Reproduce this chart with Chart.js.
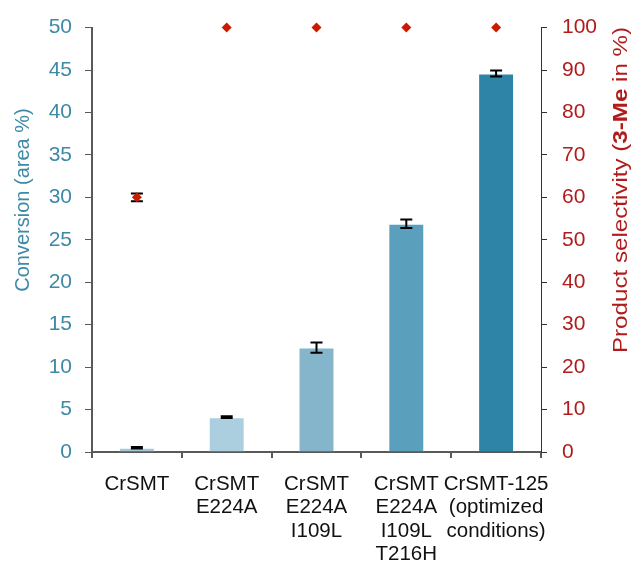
<!DOCTYPE html>
<html>
<head>
<meta charset="utf-8">
<script src="https://cdn.jsdelivr.net/npm/chart.js@4"></script>
<style>
  html, body { margin: 0; padding: 0; background: #fff; }
  #wrap { width: 632px; height: 564px; }
</style>
</head>
<body>
<div id="wrap"><canvas id="chart" width="632" height="564"></canvas></div>
<script>
// data
const categories = [['CrSMT'], ['CrSMT', 'E224A'], ['CrSMT', 'E224A', 'I109L'], ['CrSMT', 'E224A', 'I109L', 'T216H'], ['CrSMT-125', '(optimized', 'conditions)']];
const conversion = [0.5, 4.1, 12.3, 26.9, 44.6];
const conversionErr = [0.1, 0.1, 0.6, 0.5, 0.35];
const selectivity = [60, 100, 100, 100, 100];
const selectivityErr = [0.9, 0, 0, 0, 0];
const barColors = ['#a7c9d7', '#abcfde', '#84b5ca', '#5a9fbb', '#2e84a7'];

const teal = '#3d89a6';
const darkRed = '#b01c1c';
const font = 'Liberation Sans, Arial, sans-serif';

// error bars + axis titles
const errorBars = {
    id: 'errorBars',
    afterDatasetDraw(chart, args) {
        if (args.index === 0) drawErrors(chart, 0, conversion, conversionErr, chart.scales.y);
    },
    beforeDatasetDraw(chart, args) {
        if (args.index === 1) drawErrors(chart, 1, selectivity, selectivityErr, chart.scales.y1);
    },
    afterDraw(chart) {
        const ctx = chart.ctx;
        ctx.save();
        ctx.textBaseline = 'middle';
        // left title
        ctx.translate(23, 200);
        ctx.rotate(-Math.PI / 2);
        ctx.font = '20px ' + font;
        ctx.fillStyle = teal;
        ctx.textAlign = 'center';
        ctx.fillText('Conversion (area %)', 0, 0);
        ctx.restore();

        // right title with bold part (slightly wider type in the original)
        ctx.save();
        ctx.textBaseline = 'middle';
        ctx.translate(621, 190);
        ctx.rotate(-Math.PI / 2);
        ctx.scale(1.15, 1);
        ctx.fillStyle = darkRed;
        const parts = [['Product selectivity (', ''], ['3-Me', 'bold '], [' in %)', '']];
        let total = 0;
        parts.forEach(p => { ctx.font = p[1] + '21px ' + font; total += ctx.measureText(p[0]).width; });
        let x = -total / 2;
        ctx.textAlign = 'left';
        parts.forEach(p => {
            ctx.font = p[1] + '21px ' + font;
            ctx.fillText(p[0], x, 0);
            x += ctx.measureText(p[0]).width;
        });
        ctx.restore();
    }
};

function drawErrors(chart, dsIndex, values, errs, scale) {
    const ctx = chart.ctx;
    const meta = chart.getDatasetMeta(dsIndex);
    ctx.save();
    ctx.strokeStyle = '#000';
    ctx.lineWidth = 2;
    meta.data.forEach((el, i) => {
        if (!errs[i]) return;
        const yTop = scale.getPixelForValue(values[i] + errs[i]);
        const yBot = scale.getPixelForValue(values[i] - errs[i]);
        ctx.beginPath();
        ctx.moveTo(el.x, yTop);
        ctx.lineTo(el.x, yBot);
        ctx.moveTo(el.x - 6, yTop);
        ctx.lineTo(el.x + 6, yTop);
        ctx.moveTo(el.x - 6, yBot);
        ctx.lineTo(el.x + 6, yBot);
        ctx.stroke();
    });
    ctx.restore();
}

const ctx = document.getElementById('chart').getContext('2d');
new Chart(ctx, {
    type: 'bar',
    data: {
        labels: categories,
        datasets: [{
            type: 'bar',
            data: conversion,
            backgroundColor: barColors,
            borderColor: 'rgba(255,255,255,0.45)',
            borderWidth: 1,
            categoryPercentage: 1,
            barPercentage: 0.4,
            yAxisID: 'y',
            order: 2
        }, {
            type: 'line',
            data: selectivity,
            showLine: false,
            clip: false,
            pointStyle: 'rectRot',
            pointRadius: 5,
            pointBackgroundColor: '#cc1a00',
            pointBorderWidth: 0,
            yAxisID: 'y1',
            order: 1
        }]
    },
    options: {
        responsive: false,
        animation: false,
        layout: { padding: { top: 23 } },
        plugins: {
            legend: { display: false },
            tooltip: { enabled: false }
        },
        scales: {
            x: {
                grid: { drawOnChartArea: false, offset: true, tickLength: 6, color: '#595959', lineWidth: 2 },
                border: { color: '#595959', width: 2 },
                ticks: { color: '#111', font: { family: font, size: 20.5, lineHeight: 1.13 }, padding: 15, maxRotation: 0, autoSkip: false },
                afterFit(scale) { scale.height = 112; }
            },
            y: {
                position: 'left',
                min: 0, max: 50,
                grid: { drawOnChartArea: false, tickLength: 7, color: '#595959' },
                border: { color: '#595959', width: 2 },
                ticks: { stepSize: 5, color: teal, font: { family: font, size: 21 }, padding: 13 },
                afterFit(scale) { scale.width = 92; }
            },
            y1: {
                position: 'right',
                min: 0, max: 100,
                grid: { drawOnChartArea: false, tickLength: 6, color: '#333' },
                border: { color: '#333', width: 1 },
                ticks: { stepSize: 10, color: darkRed, font: { family: font, size: 21 }, padding: 15 },
                afterFit(scale) { scale.width = 91; }
            }
        }
    },
    plugins: [errorBars]
});
</script>
</body>
</html>
